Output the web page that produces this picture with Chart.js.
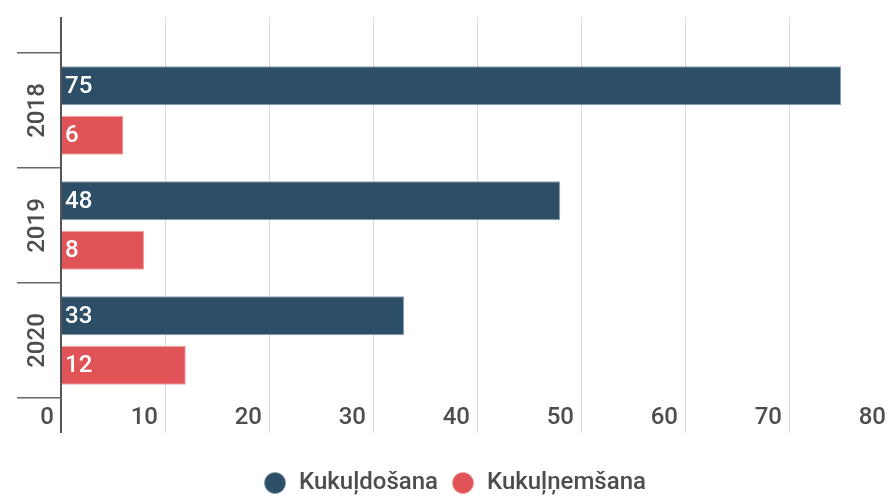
<!DOCTYPE html>
<html>
<head>
  <title>Kukuļdošana un kukuļņemšana</title>
  <script src="https://cdn.jsdelivr.net/npm/chart.js"></script>
  <style>
    body { margin: 0; background: #fff; overflow: hidden; }
    /* the 80 gridline sits just past the right edge, so the chart is a bit wider than the window */
    #wrap { width: 893px; height: 501px; }
  </style>
</head>
<body>
  <div id="wrap"><canvas id="bribeChart"></canvas></div>

  <script>
    // data
    const years = ['2018', '2019', '2020'];
    const givingBribes = [75, 48, 33];
    const takingBribes = [6, 8, 12];
    const seriesNames = ['Kukuļdošana', 'Kukuļņemšana'];
    const xTickMax = 80;
    const xTickStep = 10;

    const textGray = '#4d4d4d';
    const font = { family: 'Roboto', size: 24, weight: '500' };

    // grid colour: the zero line doubles as the dark left axis
    const gridColor = c => (c.tick && c.tick.value === 0) ? '#555' : '#dcdcdc';
    const gridWidth = c => (c.tick && c.tick.value === 0) ? 2 : 1;

    // white value labels at the start of each bar
    const valueLabels = {
      id: 'valueLabels',
      afterDatasetsDraw(chart) {
        const ctx = chart.ctx;
        ctx.save();
        ctx.font = '500 24px Roboto';
        ctx.fillStyle = '#fff';
        ctx.textAlign = 'left';
        ctx.textBaseline = 'middle';
        chart.data.datasets.forEach((ds, i) => {
          chart.getDatasetMeta(i).data.forEach((bar, j) => {
            ctx.fillText(ds.data[j], bar.base + 3, bar.y + 1);
          });
        });
        ctx.restore();
      }
    };

    const ctx = document.getElementById('bribeChart').getContext('2d');
    new Chart(ctx, {
      type: 'bar',
      data: {
        labels: years,
        datasets: [{
          label: seriesNames[0],
          data: givingBribes,
          backgroundColor: '#2c4e66',
          borderColor: '#8da0ae',
          borderWidth: { top: 1, bottom: 1, right: 1, left: 0 }
        }, {
          label: seriesNames[1],
          data: takingBribes,
          backgroundColor: '#e05357',
          borderColor: '#f0a5a7',
          borderWidth: { top: 1, bottom: 1, right: 1, left: 0 }
        }]
      },
      options: {
        indexAxis: 'y',
        responsive: true,
        maintainAspectRatio: false,
        animation: false,
        datasets: {
          bar: { categoryPercentage: 0.86, barPercentage: 0.79 }
        },
        layout: { padding: { top: 17, left: 16, right: 0, bottom: -4 } },
        scales: {
          x: {
            type: 'linear',
            min: 0,
            max: xTickMax,
            border: { display: false },
            grid: { color: gridColor, lineWidth: gridWidth, tickLength: 35 },
            ticks: {
              stepSize: xTickStep,
              align: 'end',
              labelOffset: -7,
              padding: -29,
              color: textGray,
              font: font
            },
            afterFit: s => { s.height = 60; }
          },
          xTop: {
            type: 'linear',
            position: 'top',
            min: 0,
            max: xTickMax,
            border: { display: false },
            grid: { color: gridColor, lineWidth: gridWidth, tickLength: 36, drawOnChartArea: false },
            ticks: { stepSize: xTickStep, display: false },
            afterFit: s => { s.height = 36; }
          },
          y: {
            type: 'category',
            border: { display: false },
            grid: { offset: true, drawOnChartArea: false, tickLength: 44, color: '#666', lineWidth: 1.5 },
            ticks: {
              minRotation: 90,
              maxRotation: 90,
              crossAlign: 'center',
              padding: -48,
              color: textGray,
              font: font
            },
            afterFit: s => { s.width = 45; }
          }
        },
        plugins: {
          legend: {
            position: 'bottom',
            labels: {
              usePointStyle: true,
              pointStyle: 'circle',
              boxWidth: 24,
              boxHeight: 15,
              padding: 13,
              color: textGray,
              font: font
            }
          },
          tooltip: { enabled: false }
        }
      },
      plugins: [valueLabels]
    });
  </script>
</body>
</html>
